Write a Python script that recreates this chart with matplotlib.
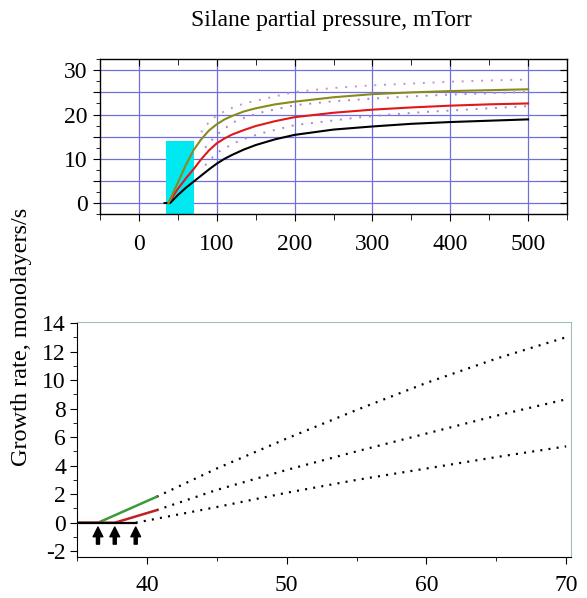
import matplotlib
matplotlib.use("Agg")
import matplotlib.pyplot as plt
from matplotlib.ticker import MultipleLocator

plt.rcParams['font.family'] = ['Liberation Serif', 'DejaVu Serif']
plt.rcParams['axes.unicode_minus'] = False

# ---- upper panel: growth rate vs silane partial pressure (mTorr) ----
p_black = [33, 40, 50, 60, 70, 80, 90, 100, 110, 120, 135, 150, 175, 200, 250, 300, 350, 400, 450, 500]
g_black = [0, 0, 1.8, 3.4, 4.8, 6.2, 7.6, 8.9, 10.0, 10.9, 12.1, 13.1, 14.4, 15.4, 16.6, 17.3, 17.9, 18.3, 18.6, 18.9]

p_red = [38, 50, 60, 70, 80, 90, 100, 110, 120, 135, 150, 175, 200, 250, 300, 350, 400, 450, 500]
g_red = [0, 3.2, 5.5, 7.6, 9.9, 11.9, 13.5, 14.6, 15.5, 16.5, 17.4, 18.5, 19.4, 20.4, 21.1, 21.6, 22.0, 22.3, 22.5]

p_olive = [38, 50, 60, 70, 80, 90, 100, 110, 120, 135, 150, 175, 200, 250, 300, 350, 400, 450, 500]
g_olive = [0, 4.6, 8.5, 11.9, 14.4, 16.4, 17.8, 18.9, 19.7, 20.7, 21.4, 22.3, 22.9, 23.9, 24.6, 25.0, 25.3, 25.5, 25.7]

p_upper = [80, 90, 100, 115, 135, 160, 200, 250, 300, 350, 400, 450, 500]
g_upper = [16.0, 18.3, 19.8, 21.2, 22.5, 23.5, 25.1, 26.0, 26.6, 27.0, 27.4, 27.7, 27.9]

p_middle = [85, 95, 105, 122, 140, 160, 200, 250, 300, 350, 400, 450, 500]
g_middle = [12.5, 14.5, 16.2, 18.3, 19.6, 20.6, 22.1, 23.0, 23.6, 24.1, 24.5, 24.8, 25.1]

p_lower = [85, 95, 105, 130, 156, 200, 242, 285, 330, 370, 420, 460, 500]
g_lower = [8.5, 10.4, 11.9, 14.2, 15.7, 17.6, 18.5, 19.4, 20.1, 20.6, 21.1, 21.5, 21.9]

window_p = [35, 71]      # shaded pressure window
window_top = 14

# ---- lower panel: zoom near the onset ----
onset = [36.5, 37.7, 39.2]

q_green = [35, 36.5, 40.7]
r_green = [0, 0, 1.82]
q_red = [35, 37.7, 40.7]
r_red = [0, 0, 0.88]
q_black = [35, 39.2]
r_black = [0, 0]

q_up_dot = [40.7, 45, 50, 55, 60, 65, 70]
r_up_dot = [1.82, 3.8, 5.9, 7.9, 9.8, 11.5, 13.0]
q_mid_dot = [40.7, 45, 50, 55, 60, 65, 70]
r_mid_dot = [0.88, 2.3, 3.7, 5.0, 6.25, 7.5, 8.65]
q_low_dot = [39.2, 45, 50, 55, 60, 65, 70]
r_low_dot = [0, 1.1, 2.1, 3.0, 3.8, 4.6, 5.35]

fig = plt.figure(figsize=(5.87, 5.98), dpi=100)

# ================= upper axes =================
ax1 = fig.add_axes([0.1704, 0.642, 0.7956, 0.259])
ax1.set_xlim(-50, 550)
ax1.set_ylim(-2.5, 32.5)
ax1.set_axisbelow(True)
ax1.grid(True, color='#7070dd', linewidth=0.9)
ax1.xaxis.set_major_locator(MultipleLocator(100))
ax1.xaxis.set_minor_locator(MultipleLocator(50))
ax1.yaxis.set_minor_locator(MultipleLocator(2.5))
ax1.set_yticks([0, 5, 10, 15, 20, 25, 30])
ax1.set_yticklabels(['0', '', '10', '', '20', '', '30'])
ax1.set_xticks([0, 100, 200, 300, 400, 500])

ax1.bar(window_p[0], window_top + 2.5, width=window_p[1] - window_p[0],
        bottom=-2.5, align='edge', color='#00e8f0', zorder=2)

ax1.plot(p_upper, g_upper, linestyle=(0, (1, 4)), color='#c890d8', lw=1.4, zorder=3)
ax1.plot(p_middle, g_middle, linestyle=(0, (1, 4)), color='#a888c8', lw=1.4, zorder=3)
ax1.plot(p_lower, g_lower, linestyle=(0, (1, 4)), color='#a888c8', lw=1.4, zorder=3)
ax1.plot(p_black, g_black, color='black', lw=1.5, zorder=4)
ax1.plot(p_red, g_red, color='#e01818', lw=1.5, zorder=4)
ax1.plot(p_olive, g_olive, color='#8a8a1c', lw=1.5, zorder=4)

for s in ax1.spines.values():
    s.set_color('black')
    s.set_linewidth(1.0)
ax1.tick_params(axis='both', which='both', labelsize=17, color='black')
ax1.tick_params(axis='x', which='major', direction='out', length=5, pad=9,
                top=True)
ax1.tick_params(axis='x', which='minor', direction='out', length=4, top=True)
ax1.tick_params(axis='y', which='major', direction='out', length=5, pad=4,
                right=True)
ax1.tick_params(axis='y', which='minor', direction='out', length=3, right=True)
# ticks on top and right spines point inward
for t in ax1.xaxis.get_major_ticks() + ax1.xaxis.get_minor_ticks():
    t.tick2line.set_marker(3)
for t in ax1.yaxis.get_major_ticks() + ax1.yaxis.get_minor_ticks():
    t.tick2line.set_marker(0)

fig.text(0.565, 0.966, 'Silane partial pressure, mTorr', ha='center',
         va='center', fontsize=17)

# ================= lower axes =================
ax2 = fig.add_axes([0.1312, 0.0686, 0.8416, 0.393])
ax2.set_xlim(35, 70.35)
ax2.set_ylim(-2.4, 14.07)
ax2.xaxis.set_minor_locator(MultipleLocator(5))
ax2.yaxis.set_minor_locator(MultipleLocator(1))
ax2.set_xticks([40, 50, 60, 70])
ax2.set_yticks(list(range(-2, 15, 2)))

dot = (0, (0.9, 2.8))
ax2.plot(q_up_dot, r_up_dot, linestyle=dot, color='black', lw=1.6)
ax2.plot(q_mid_dot, r_mid_dot, linestyle=dot, color='black', lw=1.6)
ax2.plot(q_low_dot, r_low_dot, linestyle=dot, color='black', lw=1.6)
ax2.plot(q_green, r_green, color='#3a9a3a', lw=1.8)
ax2.plot(q_red, r_red, color='#c02020', lw=1.8)
ax2.plot(q_black, r_black, color='black', lw=1.6)

for x in onset:
    ax2.annotate('', xy=(x, -0.3), xytext=(x, -1.5),
                 arrowprops=dict(facecolor='black', edgecolor='black',
                                 width=2.2, headwidth=7, headlength=7,
                                 shrink=0))

ax2.spines['left'].set_color('black')
ax2.spines['bottom'].set_color('black')
ax2.spines['top'].set_color('#9fc0b8')
ax2.spines['right'].set_color('#9fc0b8')
ax2.tick_params(axis='both', which='both', labelsize=17, direction='out')
ax2.tick_params(axis='both', which='major', length=5)
ax2.tick_params(axis='both', which='minor', length=3)
ax2.tick_params(axis='x', which='major', pad=8)
ax2.tick_params(axis='y', which='major', pad=3)

fig.text(0.037, 0.436, 'Growth rate, monolayers/s', rotation=90,
         ha='center', va='center', fontsize=17.5)

fig.savefig('out.png', dpi=100)
